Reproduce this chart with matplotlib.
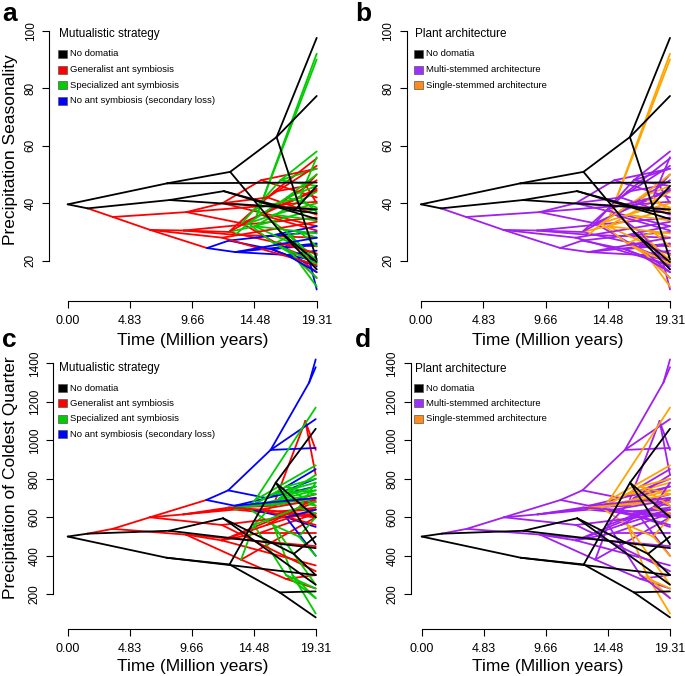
import matplotlib
matplotlib.use('Agg')
import matplotlib.pyplot as plt
from matplotlib.patches import Rectangle

plt.rcParams['font.family'] = ['Liberation Sans', 'DejaVu Sans']

T = 19.31  # crown age, all tips sit here

# phenogram tree: one entry per node (parent index, time, trait values, states)
# N = no domatia, G = generalist, S = specialized, L = secondary loss
# arch: N = no domatia, M = multi-stemmed, O = single-stemmed
node_parent = [
    -1, 0, 0, 1, 3, 2, 5, 5, 4,               # black backbone
    6, 6, 2, 7, 7, 8, 8, 4, 3, 6,             # black tips
    1, 19, 19, 20, 20, 22, 22, 21, 21, 24, 24, 26, 27, 28,   # red nodes
    28, 32, 32, 29, 29, 30, 30, 26, 26, 31, 31, 25, 22, 27,  # red tips
    23, 23, 47, 47, 49, 48,                   # blue nodes
    51, 51, 49, 49, 50, 50, 48, 52, 52,       # blue tips
    25, 62, 62, 62, 65, 65,                   # green clade 1
    63, 63, 64, 64, 66, 66, 67, 67,
    27, 76, 76, 77, 77, 77, 78, 78,           # green clade 2
    24, 84, 84, 84,                           # green clade 3
    24, 88, 88, 88, 26, 92, 92, 29, 21, 20, 97, 97,   # more red
    62, 100, 100, 100, 65,                    # more green (single-stemmed)
    76, 105, 105, 84,                         # more green
    48, 52,                                   # more blue
]
node_time = [
    0.0, 1.55, 7.7, 7.9, 12.1, 12.6, 16.2, 16.5, 17.6,
    T, T, T, T, T, T, T, T, T, T,
    3.5, 6.4, 9.2, 9.0, 10.8, 12.5, 13.0, 12.0, 13.5, 16.0, 16.5, 15.0, 17.0, 18.5,
    T, T, T, T, T, T, T, T, T, T, T, T, T, T,
    12.5, 13.0, 15.8, 15.5, 18.8, 17.0,
    T, T, T, T, T, T, T, T, T,
    14.0, 14.6, 16.0, 16.0, 17.5, 18.0,
    T, T, T, T, T, T, T, T,
    14.5, 16.5, 17.0, T, T, T, T, T,
    14.5, T, T, T,
    15.0, T, T, T, 15.5, T, T, T, T, 12.0, T, T,
    17.0, T, T, T, T,
    18.0, T, T, T,
    T, T,
]
# Precipitation Seasonality (panels a, b)
ps_value = [
    39.6, 38.2, 46.9, 41.1, 44.2, 50.9, 63.0, 30.0, 37.5,
    97.5, 77.3, 47.2, 17.0, 19.5, 36.5, 46.0, 34.5, 37.8, 20.5,
    35.2, 30.7, 36.9, 30.5, 24.4, 30.0, 29.0, 40.0, 33.0, 44.0, 26.0, 48.0, 24.0, 46.0,
    55.6, 50.0, 40.0, 14.0, 25.0, 52.0, 42.0, 38.0, 32.0, 16.0, 20.0, 28.0, 35.0, 45.0,
    27.0, 23.0, 24.0, 28.5, 19.0, 22.0,
    10.0, 22.0, 18.0, 25.5, 32.0, 30.0, 26.0, 23.5, 20.0,
    33.0, 35.0, 36.0, 26.0, 22.0, 30.0,
    92.0, 90.0, 40.0, 34.0, 14.0, 11.0, 28.0, 25.0,
    38.0, 48.0, 30.0, 58.0, 52.0, 46.0, 20.0, 17.0,
    32.0, 44.0, 38.0, 22.0,
    36.0, 48.0, 44.5, 30.5, 42.0, 53.0, 36.0, 22.5, 40.5, 28.0, 33.5, 18.5,
    42.0, 50.0, 46.0, 38.5, 19.0,
    42.0, 56.0, 37.0, 29.5,
    28.0, 16.0,
]
# Precipitation of Coldest Quarter (panels c, d)
pcq_value = [
    500, 515, 390, 530, 595, 355, 780, 210, 410,
    1060, 600, 300, 80, 215, 300, 500, 250, 440, 460,
    540, 600, 510, 615, 690, 650, 640, 480, 380, 660, 630, 520, 280, 1100,
    720, 950, 820, 650, 600, 620, 520, 680, 350, 230, 300, 600, 700, 600,
    740, 660, 950, 700, 1300, 600,
    1420, 1380, 1110, 960, 850, 800, 760, 550, 400,
    650, 690, 720, 560, 300, 500,
    1170, 870, 780, 740, 180, 100, 600, 400,
    560, 700, 300, 820, 760, 660, 230, 180,
    660, 740, 700, 680,
    640, 690, 610, 560, 560, 700, 640, 640, 450, 560, 620, 320,
    760, 800, 720, 660, 250,
    650, 780, 620, 720,
    700, 640,
]
strategy = list('NNNNNNNNN' 'NNNNNNNNNN'
                'GGGGGGGGGGGGGG' 'GGGGGGGGGGGGGG'
                'LLLLLL' 'LLLLLLLLL'
                'SSSSSS' 'SSSSSSSS'
                'SSSSSSSS'
                'SSSS'
                'GGGGGGGGGGGG' 'SSSSS' 'SSSS' 'LL')
architecture = list('NNNNNNNNN' 'NNNNNNNNNN'
                    'MMMMMMMMMMMMMM' 'MMMMMMMMMMMMMM'
                    'MMMMMM' 'MMMMMMMMM'
                    'OOOOOO' 'OOOOOOOO'
                    'MMMMMMOM'
                    'OOOO'
                    'MMMMMMMMMMMM' 'OOOOO' 'MMOO' 'MM')

strategy_labels = ['No domatia', 'Generalist ant symbiosis',
                   'Specialized ant symbiosis', 'No ant symbiosis (secondary loss)']
strategy_colors = {'N': 'black', 'G': '#FF0000', 'S': '#00CD00', 'L': '#0000FF'}
arch_labels = ['No domatia', 'Multi-stemmed architecture', 'Single-stemmed architecture']
arch_colors = {'N': 'black', 'M': '#A020F0', 'O': '#FFA500'}
arch_legend_colors = ['black', '#9B30FF', '#FF8C1A']

time_ticks = [0.0, 4.83, 9.66, 14.48, 19.31]
time_labels = ['0.00', '4.83', '9.66', '14.48', '19.31']

W, H = 685, 676
fig = plt.figure(figsize=(W / 100, H / 100), dpi=100)


def add_panel(left, right, bottom, top, x0px, x1px, yv, ypx):
    # place axes in pixel terms so the R-style detached axes land where they should
    ax = fig.add_axes([left / W, 1 - bottom / H, (right - left) / W, (bottom - top) / H])
    sx = (x1px - x0px) / T
    ax.set_xlim(-(x0px - left) / sx, T + (right - x1px) / sx)
    (v0, v1), (p0, p1) = yv, ypx
    sy = (p0 - p1) / (v1 - v0)
    ax.set_ylim(v0 - (bottom - p0) / sy, v1 + (p1 - top) / sy)
    ax.spines['top'].set_visible(False)
    ax.spines['right'].set_visible(False)
    ax.spines['left'].set_bounds(v0, v1)
    ax.spines['bottom'].set_bounds(0, T)
    for s in ('left', 'bottom'):
        ax.spines[s].set_linewidth(0.8)
    ax.set_xticks(time_ticks)
    ax.set_xticklabels(time_labels)
    ax.tick_params(axis='x', length=5, width=0.8, pad=5, labelsize=9)
    ax.tick_params(axis='y', length=5, width=0.8, pad=4, labelsize=8.5)
    ax.patch.set_visible(False)
    return ax


def draw_tree(ax, values, states, palette):
    order = [i for i in range(len(node_parent)) if states[i] != 'N'] + \
            [i for i in range(len(node_parent)) if states[i] == 'N']
    for i in order:
        p = node_parent[i]
        if p < 0:
            continue
        ax.plot([node_time[p], node_time[i]], [values[p], values[i]],
                color=palette[states[i]], lw=1.3, solid_capstyle='round')


def rotate_yticks(ax, ticks):
    ax.set_yticks(ticks)
    ax.set_yticklabels([str(t) for t in ticks])
    for lab in ax.get_yticklabels():
        lab.set_rotation(90)
        lab.set_va('center')
        lab.set_ha('right')


def legend(x_title, x_sq, x_txt, y_title, rows, title, labels, colors):
    fig.text(x_title / W, 1 - y_title / H, title, fontsize=8.5, va='center', ha='left')
    for y, lab, col in zip(rows, labels, colors):
        fig.add_artist(Rectangle((x_sq / W, 1 - (y + 4) / H), 9 / W, 8 / H,
                                 transform=fig.transFigure, facecolor=col,
                                 edgecolor='#555555', lw=0.5))
        fig.text(x_txt / W, 1 - y / H, lab, fontsize=6.8, va='center', ha='left')


ax_a = add_panel(49.3, 335, 300.7, 22, 67.7, 316.7, (20, 100), (260.7, 30.7))
ax_b = add_panel(406.7, 684, 300.7, 22, 421, 670, (20, 100), (260.7, 30.7))
ax_c = add_panel(53.3, 335, 629, 350, 67.7, 315.7, (200, 1400), (594.3, 363.3))
ax_d = add_panel(410.7, 684, 629, 350, 421.7, 670, (200, 1400), (594.3, 363.3))

draw_tree(ax_a, ps_value, strategy, strategy_colors)
draw_tree(ax_b, ps_value, architecture, arch_colors)
draw_tree(ax_c, pcq_value, strategy, strategy_colors)
draw_tree(ax_d, pcq_value, architecture, arch_colors)

for ax in (ax_a, ax_b):
    rotate_yticks(ax, [20, 40, 60, 80, 100])
for ax in (ax_c, ax_d):
    rotate_yticks(ax, [200, 400, 600, 800, 1000, 1200, 1400])

legend(59.3, 58.3, 70, 34.3, [54, 69.8, 85.2, 100.5], 'Mutualistic strategy',
       strategy_labels, [strategy_colors[k] for k in 'NGSL'])
legend(415, 414, 425.7, 34.3, [54, 69.8, 85.2], 'Plant architecture',
       arch_labels, arch_legend_colors)
legend(59.3, 58.3, 70, 368.3, [388.3, 403.3, 418.7, 434.3], 'Mutualistic strategy',
       strategy_labels, [strategy_colors[k] for k in 'NGSL'])
legend(415, 414, 425.7, 369, [388.3, 403.3, 418.7], 'Plant architecture',
       arch_labels, arch_legend_colors)

# axis titles
for x, y in [(193, 340), (548, 340), (193, 667), (548, 667)]:
    fig.text(x / W, 1 - y / H, 'Time (Million years)', fontsize=12.5, ha='center', va='center')
fig.text(11 / W, 1 - 150 / H, 'Precipitation Seasonality', fontsize=12.5,
         rotation=90, ha='center', va='center')
fig.text(11 / W, 1 - 478 / H, 'Precipitation of Coldest Quarter', fontsize=12.5,
         rotation=90, ha='center', va='center')

# panel letters
for x, y, letter in [(2, 21, 'a'), (355, 21, 'b'), (2, 346.7, 'c'), (355, 346.7, 'd')]:
    fig.text(x / W, 1 - y / H, letter, fontsize=19, fontweight='bold',
             ha='left', va='baseline')

fig.savefig('out.png', dpi=100)
